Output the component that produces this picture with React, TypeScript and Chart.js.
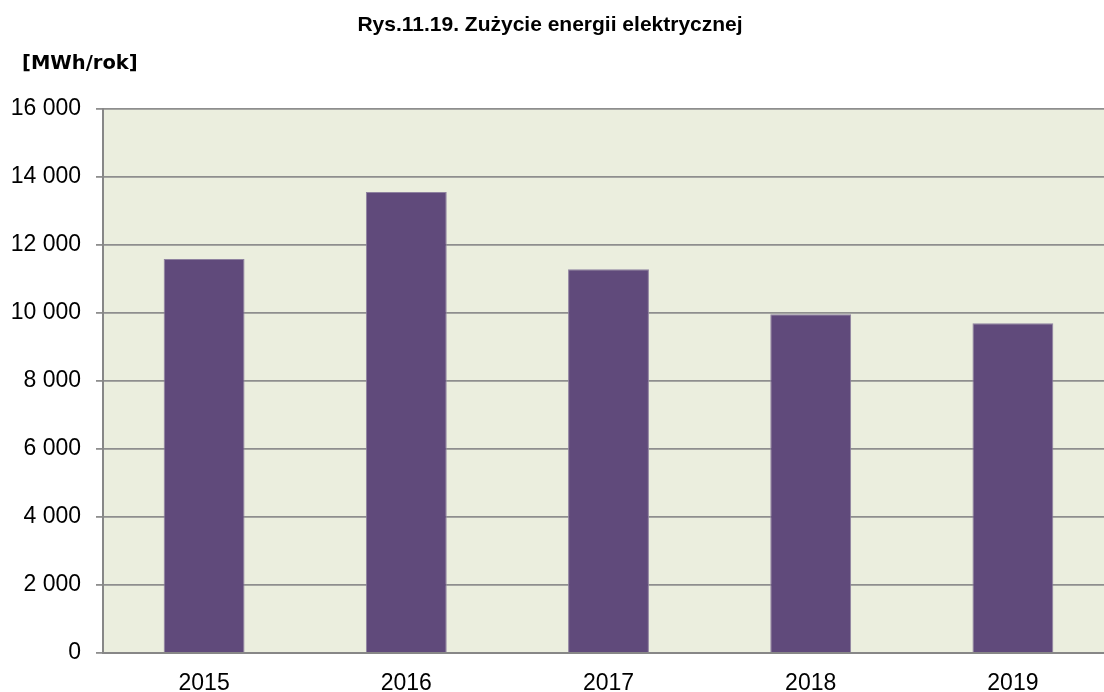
import { useEffect, useRef } from "react";
import { Chart, registerables } from "chart.js";

Chart.register(...registerables);

const categories = ["2015", "2016", "2017", "2018", "2019"];
const consumption = [11590, 13560, 11290, 9960, 9700];
const yMin = 0;
const yMax = 16000;
const yStep = 2000;
const titleText = "Rys.11.19. Zużycie energii elektrycznej";
const unitText = "[MWh/rok]";

const fmt = (v: number) => String(v).replace(/\B(?=(\d{3})+(?!\d))/g, " ");

const W = 1114;
const H = 692;

export default function App() {
  const ref = useRef<HTMLCanvasElement | null>(null);

  useEffect(() => {
    if (!ref.current) return;
    const bgPlugin = {
      id: "plotBg",
      beforeDraw(chart: any) {
        const { ctx, chartArea } = chart;
        ctx.save();
        ctx.fillStyle = "#EBEEDE";
        ctx.fillRect(chartArea.left, chartArea.top, chartArea.right - chartArea.left, chartArea.bottom - chartArea.top);
        ctx.restore();
      },
    };
    const textPlugin = {
      id: "texts",
      afterDraw(chart: any) {
        const { ctx } = chart;
        ctx.save();
        ctx.fillStyle = "#000";
        ctx.textBaseline = "alphabetic";
        ctx.textAlign = "center";
        ctx.font = "bold 21px 'Liberation Sans', Arial, sans-serif";
        ctx.fillText(titleText, 550, 31);
        ctx.textAlign = "left";
        ctx.font = "bold 19.5px 'DejaVu Sans', sans-serif";
        ctx.fillText(unitText, 22, 69);
        ctx.restore();
      },
    };
    const chart = new Chart(ref.current, {
      type: "bar",
      data: {
        labels: categories,
        datasets: [
          {
            data: consumption,
            backgroundColor: "#604A7B",
            borderColor: "#8F82A0",
            borderWidth: 1,
            barPercentage: 0.4,
            categoryPercentage: 1,
          },
        ],
      },
      options: {
        animation: false,
        responsive: false,
        devicePixelRatio: 1,
        layout: { padding: { top: 109, right: 0, left: 0, bottom: 0 } },
        plugins: { legend: { display: false }, tooltip: { enabled: false }, title: { display: false } },
        scales: {
          x: {
            grid: { display: false },
            border: { display: true, color: "#878787", width: 2 },
            ticks: {
              color: "#000",
              font: { family: "'Liberation Sans', Arial, sans-serif", size: 23 },
              padding: 9,
              maxRotation: 0,
            },
            afterFit(scale: any) {
              scale.height = 39;
            },
          },
          y: {
            min: yMin,
            max: yMax,
            grid: { color: "#8E8E8E", lineWidth: 1.8, tickLength: 7, drawTicks: true },
            border: { display: true, color: "#878787", width: 2 },
            ticks: {
              stepSize: yStep,
              color: "#000",
              font: { family: "'Liberation Sans', Arial, sans-serif", size: 23 },
              padding: 15,
              callback: (v: any) => fmt(Number(v)),
            },
            afterFit(scale: any) {
              scale.width = 103;
            },
          },
        },
      },
      plugins: [bgPlugin, textPlugin],
    });
    return () => chart.destroy();
  }, []);

  return (
    <div style={{ position: "fixed", left: 0, top: 0, width: 1104, height: 692, overflow: "hidden", background: "#fff" }}>
      <canvas ref={ref} width={W} height={H} style={{ width: W, height: H, display: "block" }} />
    </div>
  );
}
